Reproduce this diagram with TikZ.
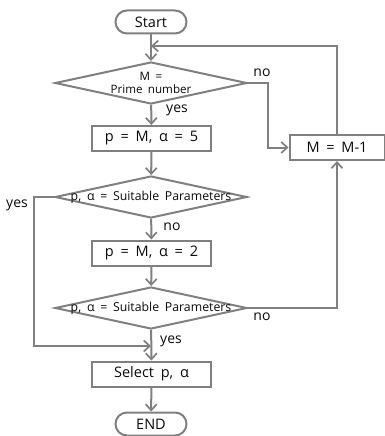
\documentclass[tikz,border=0pt]{standalone}
\usepackage{fontspec}
\setmainfont{Open Sans}[WordSpace=1.8]
\usetikzlibrary{arrows.meta,shapes.geometric}
\definecolor{flowgray}{RGB}{128,128,128}
\definecolor{inkdark}{RGB}{10,10,10}
\tikzset{
  base/.style={draw=flowgray, line width=2pt, text=inkdark},
  terminal/.style={base, rounded corners=11.5pt, minimum width=71pt, minimum height=23pt,
    inner sep=0pt, font=\fontsize{14.5}{16}\selectfont},
  procbox/.style={base, minimum width=119pt, minimum height=25pt, inner sep=0pt,
    font=\fontsize{14.5}{16}\selectfont},
  decision/.style={base, diamond, minimum width=192pt, minimum height=42pt, inner sep=0pt,
    font=\fontsize{12.3}{13}\selectfont},
  flow/.style={draw=flowgray, line width=2pt,
    -{Straight Barb[length=6pt,width=11pt,line width=1.7pt]}},
  plainline/.style={draw=flowgray, line width=2pt},
  tag/.style={text=inkdark, font=\fontsize{14}{16}\selectfont, inner sep=0pt},
}
\begin{document}
\begin{tikzpicture}[x=1pt,y=-1pt]
\useasboundingbox (0,0) rectangle (385,436);

% main column
\node[terminal] (start) at (151,22) {Start};
\node[decision, font=\fontsize{11.6}{13}\selectfont] (prime) at (151,83)
  {\makebox[0pt]{\shortstack{M =\\[1pt]Prime number}}};
\node[procbox] (setfive) at (151.5,138.5) {p = M, α = 5};
\node[decision] (checkA) at (151,197) {\makebox[0pt]{p, α = Suitable Parameters}};
\node[procbox] (settwo) at (151.5,253) {p = M, α = 2};
\node[decision] (checkB) at (151,308) {\makebox[0pt]{p, α = Suitable Parameters}};
\node[procbox] (select) at (151.5,374) {Select p, α};
\node[terminal] (finish) at (151,424) {END};

% side box
\node[procbox, minimum width=95pt] (decr) at (337,147.5) {M = M-1};

% junction points on the main column
\coordinate (loopin) at (151,46);
\coordinate (merge) at (151,346);

% connectors
\draw[flow] (start) -- (prime);
\draw[plainline] (start.south) -- (loopin);
\draw[flow] (decr.north) |- (loopin);
\draw[flow] (prime.east) -- ++(20,0) |- (decr.west);
\draw[flow] (prime) -- (setfive);
\draw[flow] (setfive) -- (checkA);
\draw[flow] (checkA) -- (settwo);
\draw[flow] (checkA.west) -- (34,197) |- (merge);
\draw[flow] (settwo) -- (checkB);
\draw[flow] (checkB.east) -| (decr.south);
\draw[flow] (checkB) -- (select);
\draw[flow] (select) -- (finish);

% branch labels
\node[tag] (noA) at (262,73) {no};
\node[tag] (yesA) at (177,110) {yes};
\node[tag] (yesB) at (17,205) {yes};
\node[tag] (noB) at (172,227) {no};
\node[tag] (noC) at (262,317) {no};
\node[tag] (yesC) at (171,341) {yes};
\end{tikzpicture}
\end{document}
